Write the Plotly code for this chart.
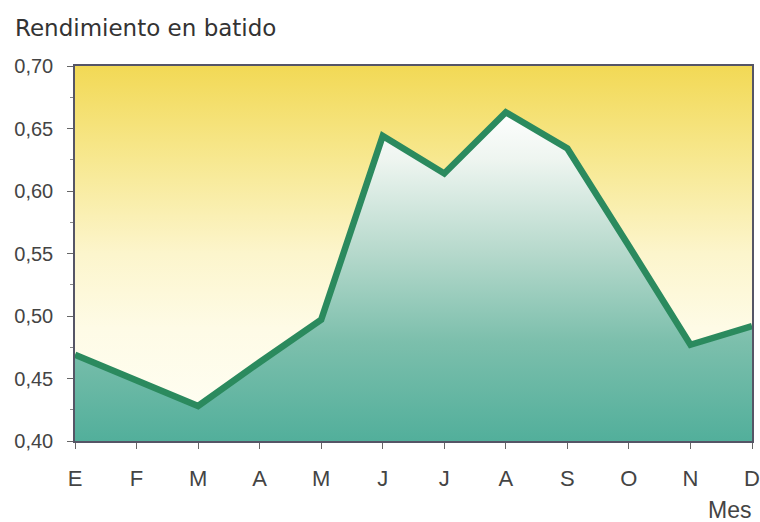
import plotly.graph_objects as go

months = ["E", "F", "M", "A", "M", "J", "J", "A", "S", "O", "N", "D"]
values = [0.469, 0.449, 0.428, 0.463, 0.497, 0.644, 0.614, 0.663, 0.634, 0.556, 0.477, 0.492]
y_ticks = [0.40, 0.45, 0.50, 0.55, 0.60, 0.65, 0.70]
y_min, y_max = 0.40, 0.70

x_idx = list(range(len(months)))

fig = go.Figure()

# background band (baseline + top with yellow gradient)
fig.add_trace(go.Scatter(x=[x_idx[0], x_idx[-1]], y=[y_min, y_min], mode="lines",
                         line=dict(width=0), hoverinfo="skip", showlegend=False))
fig.add_trace(go.Scatter(x=[x_idx[0], x_idx[-1]], y=[y_max, y_max], mode="lines",
                         line=dict(width=0), fill="tonexty", hoverinfo="skip", showlegend=False,
                         fillgradient=dict(type="vertical", start=y_min, stop=y_max,
                                           colorscale=[[0, "#fffff6"], [0.3, "#fefbe6"],
                                                       [0.5, "#fcf5cc"], [0.75, "#f7e890"],
                                                       [1, "#f2d955"]])))

# data area
fig.add_trace(go.Scatter(x=x_idx, y=[y_min] * len(months), mode="lines",
                         line=dict(width=0), hoverinfo="skip", showlegend=False))
fig.add_trace(go.Scatter(x=x_idx, y=values, mode="lines", fill="tonexty",
                         line=dict(color="#2b8a5e", width=6.5), showlegend=False,
                         fillgradient=dict(type="vertical", start=y_min, stop=0.665,
                                           colorscale=[[0, "#52af9b"], [0.3, "#7cbfac"],
                                                       [0.57, "#b6d9cc"], [0.85, "#eef5f0"],
                                                       [1, "#ffffff"]])))

fig.update_layout(
    width=760, height=522,
    margin=dict(l=75, r=8, t=66, b=81),
    paper_bgcolor="white", plot_bgcolor="white",
    separators=",.",
    font=dict(family="Liberation Sans, Arial, sans-serif", color="#444444", size=20),
    annotations=[
        dict(text="Rendimiento en batido", xref="paper", yref="paper", x=-0.092, y=1.101,
             xanchor="left", yanchor="middle", showarrow=False,
             font=dict(family="DejaVu Sans, sans-serif", size=23, color="#333333")),
        dict(text="Mes", xref="paper", yref="paper", x=1.002, y=-0.184,
             xanchor="right", yanchor="middle", showarrow=False,
             font=dict(size=23, color="#444444")),
    ],
)

fig.update_xaxes(
    range=[0, len(months) - 1], tickmode="array", tickvals=x_idx, ticktext=months,
    showgrid=False, zeroline=False, showline=True, linecolor="#555566", linewidth=1.5,
    mirror=True, ticks="outside", ticklen=6, tickcolor="#666666", ticklabelstandoff=11,
    tickfont=dict(size=22), automargin=False,
)
fig.update_yaxes(
    range=[y_min, y_max], tickmode="array", tickvals=y_ticks, tickformat=".2f",
    showgrid=False, zeroline=False, showline=True, linecolor="#555566", linewidth=1.5,
    mirror=True, ticks="outside", ticklen=6, tickcolor="#666666", ticklabelstandoff=10,
    minor=dict(dtick=0.025, ticks="outside", ticklen=3, tickcolor="#888888"),
    automargin=False,
)

fig.write_html(
    "out.html",
    config={"displayModeBar": False},
    post_script="document.body.style.margin='0';document.body.style.overflow='hidden';",
)
